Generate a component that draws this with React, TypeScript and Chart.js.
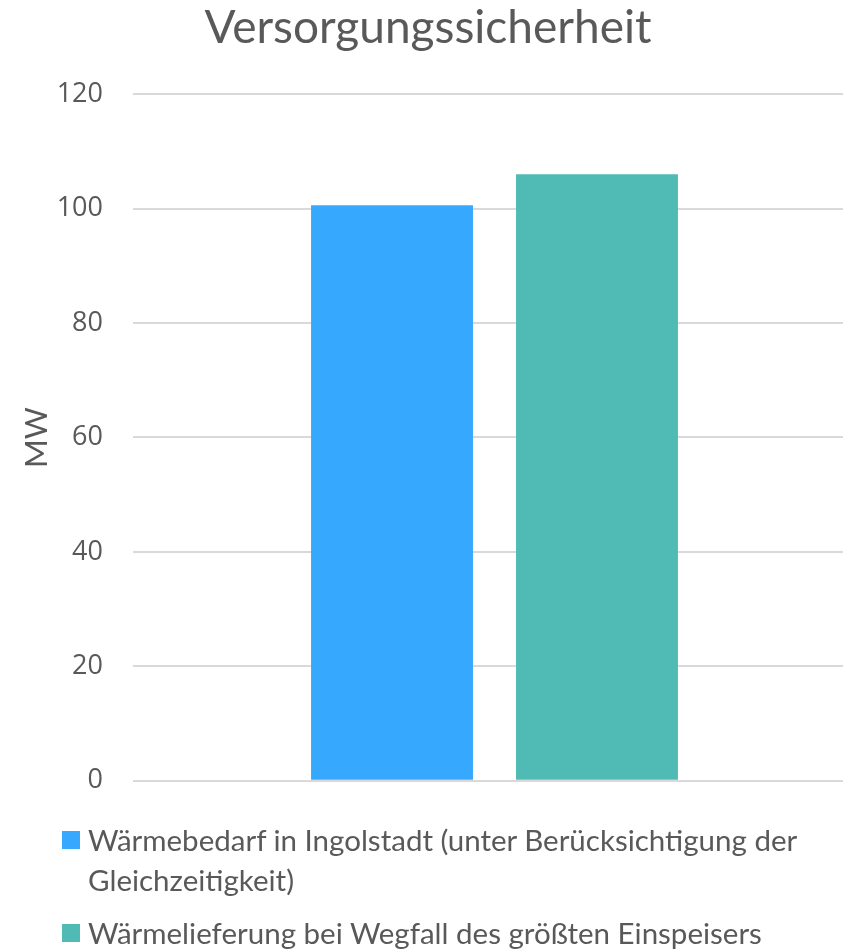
import React, { useEffect, useRef } from "react";
import { Chart, registerables } from "chart.js";

Chart.register(...registerables);

const TITLE = "Versorgungssicherheit";
const Y_AXIS_TITLE = "MW";
const CATEGORIES = [""];
const SERIES_LABELS = [
  "Wärmebedarf in Ingolstadt (unter Berücksichtigung der Gleichzeitigkeit)",
  "Wärmelieferung bei Wegfall des größten Einspeisers",
];
const SERIES_VALUES = [[100.6], [106.0]];
const SERIES_COLORS = ["#36A9FF", "#50BBB5"];
const Y_MIN = 0;
const Y_MAX = 120;
const Y_STEP = 20;

const TEXT_COLOR = "#595959";
const FONT = "Lato, 'Open Sans', sans-serif";

export default function App() {
  const canvasRef = useRef<HTMLCanvasElement | null>(null);

  useEffect(() => {
    if (!canvasRef.current) return;
    const chart = new Chart(canvasRef.current, {
      type: "bar",
      data: {
        labels: CATEGORIES,
        datasets: SERIES_LABELS.map((label, i) => ({
          label,
          data: SERIES_VALUES[i],
          backgroundColor: SERIES_COLORS[i],
          borderWidth: 0,
          categoryPercentage: 0.567,
          barPercentage: 0.79,
        })),
      },
      options: {
        responsive: false,
        animation: false,
        maintainAspectRatio: false,
        layout: { padding: { top: 0, right: 0, bottom: 20, left: 0 } },
        plugins: {
          legend: { display: false },
          tooltip: { enabled: false },
          title: {
            display: true,
            text: TITLE,
            color: TEXT_COLOR,
            font: { family: FONT, size: 46, weight: "normal" },
            padding: { top: 1, bottom: 38 },
          },
        },
        scales: {
          x: {
            display: true,
            grid: { display: false, drawTicks: false },
            border: { display: false },
            ticks: { display: false },
          },
          y: {
            min: Y_MIN,
            max: Y_MAX,
            ticks: {
              stepSize: Y_STEP,
              color: TEXT_COLOR,
              padding: 30,
              font: { family: "'Open Sans', sans-serif", size: 27 },
            },
            grid: { color: "#D9D9D9", lineWidth: 2, drawTicks: false },
            border: { display: false },
            title: {
              display: true,
              text: Y_AXIS_TITLE,
              color: TEXT_COLOR,
              font: { family: FONT, size: 31, weight: "normal" },
              padding: { top: 18, bottom: 0 },
            },
            afterFit: (scale: any) => {
              scale.width = 133;
            },
          },
        },
      },
    });
    return () => chart.destroy();
  }, []);

  return (
    <div style={{ position: "absolute", left: 0, top: 0, width: 843, height: 950, overflow: "hidden", background: "#fff" }}>
      <canvas ref={canvasRef} width={856} height={827} style={{ display: "block" }} />
      <div style={{ position: "absolute", left: 62, top: 820, width: 770, fontFamily: FONT, color: TEXT_COLOR, fontSize: 29.5, lineHeight: "40px" }}>
        {SERIES_LABELS.map((label, i) => (
          <div key={i} style={{ display: "flex", alignItems: "flex-start", marginBottom: 13 }}>
            <span style={{ display: "inline-block", width: 18, height: 18, background: SERIES_COLORS[i], marginTop: 11, marginRight: 8, flex: "0 0 auto" }} />
            <span>{label}</span>
          </div>
        ))}
      </div>
    </div>
  );
}
